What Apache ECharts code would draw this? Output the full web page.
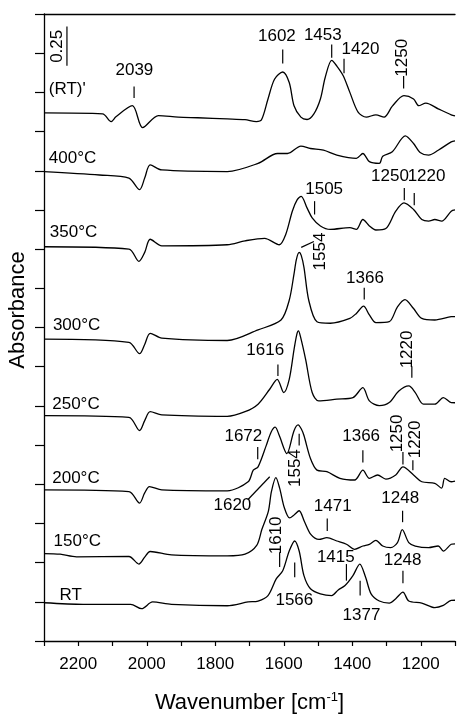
<!DOCTYPE html>
<html>
<head>
<meta charset="utf-8">
<script src="https://cdn.jsdelivr.net/npm/echarts@6/dist/echarts.min.js"></script>
<style>
html,body{margin:0;padding:0;background:#fff;}
#chart{width:458px;height:719px;}
</style>
</head>
<body>
<div id="chart"></div>
<script>
// ---- data (wavenumber [cm-1], absorbance incl. stacking offset) ----
const xTickLabels = [2200, 2000, 1800, 1600, 1400, 1200];

const specRTprime = [[2300,3.369],[2129,3.363],[2104,3.314],[2090,3.344],[2042,3.415],[2012,3.275],[1966,3.352],[1908,3.342],[1851,3.338],[1765,3.331],[1713,3.326],[1680,3.314],[1665,3.325],[1646,3.458],[1627,3.584],[1603,3.630],[1584,3.563],[1570,3.415],[1550,3.342],[1532,3.327],[1512,3.363],[1493,3.458],[1479,3.595],[1460,3.704],[1445,3.668],[1426,3.605],[1407,3.500],[1383,3.374],[1359,3.342],[1331,3.357],[1307,3.342],[1283,3.412],[1249,3.479],[1221,3.458],[1206,3.415],[1185,3.432],[1149,3.395],[1111,3.357],[1100,3.350]];

const spec400 = [[2300,2.995],[2138,2.973],[2052,2.953],[2021,2.879],[2006,2.953],[1990,3.037],[1956,3.005],[1765,2.995],[1675,3.047],[1618,3.110],[1589,3.110],[1550,3.157],[1522,3.142],[1484,3.131],[1445,3.100],[1388,3.079],[1369,3.110],[1350,3.058],[1321,3.047],[1311,3.092],[1283,3.121],[1245,3.222],[1221,3.174],[1202,3.117],[1177,3.100],[1149,3.131],[1111,3.184],[1100,3.190]];

const spec350 = [[2300,2.515],[2052,2.500],[2023,2.422],[2006,2.479],[1990,2.563],[1956,2.521],[1765,2.528],[1713,2.553],[1656,2.569],[1613,2.528],[1594,2.595],[1575,2.742],[1561,2.814],[1549,2.837],[1532,2.763],[1517,2.700],[1493,2.648],[1464,2.626],[1407,2.637],[1388,2.626],[1369,2.689],[1350,2.648],[1331,2.622],[1302,2.631],[1273,2.742],[1249,2.795],[1221,2.753],[1197,2.689],[1177,2.679],[1159,2.689],[1139,2.679],[1111,2.742],[1100,2.750]];

const spec300 = [[2300,1.926],[2052,1.905],[2021,1.833],[2006,1.892],[1990,1.963],[1956,1.932],[1765,1.917],[1675,1.985],[1608,2.048],[1584,2.174],[1570,2.342],[1563,2.435],[1555,2.479],[1549,2.460],[1541,2.384],[1527,2.174],[1503,2.037],[1464,2.027],[1407,2.058],[1388,2.090],[1367,2.136],[1350,2.080],[1331,2.031],[1292,2.037],[1268,2.132],[1246,2.178],[1221,2.121],[1197,2.058],[1159,2.048],[1111,2.069],[1100,2.070]];

const spec250 = [[2300,1.438],[2052,1.427],[2021,1.343],[2006,1.406],[1990,1.463],[1956,1.442],[1765,1.433],[1713,1.463],[1675,1.511],[1641,1.606],[1619,1.669],[1600,1.585],[1584,1.669],[1570,1.859],[1562,1.955],[1557,1.978],[1551,1.940],[1536,1.795],[1517,1.585],[1498,1.532],[1445,1.543],[1398,1.553],[1369,1.616],[1350,1.532],[1321,1.501],[1292,1.521],[1264,1.595],[1235,1.627],[1216,1.585],[1192,1.511],[1159,1.511],[1134,1.553],[1111,1.521],[1100,1.520]];

const spec200 = [[2300,0.964],[2052,0.953],[2021,0.880],[2006,0.945],[1992,0.985],[1956,0.964],[1765,0.958],[1704,1.016],[1689,1.090],[1675,1.111],[1651,1.248],[1637,1.332],[1625,1.364],[1613,1.311],[1591,1.196],[1570,1.342],[1558,1.379],[1549,1.354],[1541,1.311],[1522,1.164],[1503,1.090],[1474,1.080],[1436,1.038],[1393,1.027],[1369,1.090],[1350,1.038],[1326,1.059],[1302,1.033],[1273,1.059],[1252,1.111],[1221,1.059],[1197,1.016],[1159,1.006],[1139,0.975],[1130,1.038],[1111,1.016],[1100,1.020]];

const spec150 = [[2300,0.558],[2253,0.554],[2205,0.537],[2052,0.539],[2023,0.491],[2006,0.535],[1990,0.571],[1928,0.549],[1765,0.543],[1713,0.554],[1679,0.610],[1664,0.711],[1645,0.827],[1636,0.953],[1623,1.042],[1612,0.975],[1598,0.848],[1583,0.785],[1569,0.806],[1555,0.831],[1540,0.764],[1521,0.680],[1497,0.648],[1474,0.659],[1445,0.638],[1417,0.617],[1393,0.585],[1369,0.606],[1350,0.617],[1331,0.642],[1311,0.606],[1288,0.596],[1268,0.628],[1254,0.711],[1235,0.628],[1216,0.606],[1177,0.596],[1149,0.606],[1134,0.574],[1111,0.617],[1100,0.620]];

const specRT = [[2300,0.244],[2186,0.234],[2047,0.234],[2015,0.206],[1983,0.249],[1928,0.234],[1765,0.225],[1704,0.249],[1675,0.255],[1646,0.290],[1622,0.396],[1603,0.448],[1584,0.574],[1568,0.638],[1555,0.574],[1541,0.417],[1522,0.333],[1493,0.301],[1460,0.290],[1441,0.326],[1421,0.354],[1398,0.417],[1378,0.491],[1361,0.407],[1345,0.301],[1321,0.255],[1292,0.242],[1273,0.270],[1252,0.312],[1235,0.255],[1197,0.242],[1159,0.213],[1134,0.227],[1111,0.259],[1100,0.260]];

const spectra = [specRTprime, spec400, spec350, spec300, spec250, spec200, spec150, specRT];
const specNames = ["(RT)'", '400°C', '350°C', '300°C', '250°C', '200°C', '150°C', 'RT'];
const specLabelPos = [[2286,3.521],[2286,3.079],[2283,2.605],[2274,2.016],[2276,1.511],[2276,1.039],[2272,0.638],[2255,0.294]];

// peak annotations: text, text centre, rotated?, marker line (x1,y1,x2,y2)
const annText = ['2039','1602','1453','1420','1250','1250','1220','1505','1554','1366','1616','1220','1672','1554','1366','1250','1220','1620','1471','1248','1610','1566','1415','1248','1377'];
const annPos = [[2036,3.640],[1620,3.855],[1486,3.862],[1376,3.773],[1254,3.721],[1290,2.962],[1183,2.962],[1482,2.879],[1493,2.485],[1363,2.316],[1654,1.853],[1240,1.860],[1718,1.306],[1565,1.103],[1374,1.306],[1268,1.324],[1216,1.286],[1750,0.863],[1457,0.859],[1260,0.912],[1622,0.674],[1569,0.259],[1448,0.535],[1253,0.516],[1373,0.164]];
const annRot = [0,0,0,0,1,0,0,0,1,0,0,1,0,1,0,1,1,0,0,0,1,0,0,0,0];
const annLine = [[2037,3.538,2037,3.464],[1603,3.773,1603,3.685],[1460,3.805,1460,3.721],[1424,3.715,1424,3.622],[1250,3.605,1250,3.525],[1248,2.890,1248,2.812],[1219,2.858,1219,2.780],[1510,2.806,1510,2.721],[1549,2.511,1512,2.549],[1365,2.254,1365,2.178],[1617,1.764,1617,1.690],[1226,1.753,1226,1.679],[1676,1.237,1676,1.160],[1555,1.322,1555,1.248],[1369,1.217,1369,1.139],[1252,1.206,1252,1.126],[1223,1.153,1223,1.090],[1705,0.901,1641,1.048],[1473,0.781,1473,0.701],[1253,0.831,1253,0.758],[1612,0.566,1612,0.472],[1568,0.501,1568,0.407],[1417,0.491,1417,0.385],[1252,0.448,1252,0.369],[1377,0.385,1377,0.290]];

// scale bar: 0.25 absorbance units
const scaleBarValue = 0.25;
const scaleBarPos = [2233, 3.67];
const scaleTextPos = [2262, 3.794];

// ---- chart ----
const FONT = '"Liberation Sans", Arial, Helvetica, sans-serif';
const chart = echarts.init(document.getElementById('chart'), null, {renderer: 'canvas'});

const series = spectra.map((d, i) => ({
  type: 'line', name: specNames[i], data: d, showSymbol: false, smooth: 0.3,
  lineStyle: {color: '#000', width: 1.3}, silent: true, animation: false
}));

series.push({
  type: 'custom', name: 'labels', animation: false, silent: true,
  data: specLabelPos,
  encode: {x: 0, y: 1},
  renderItem: (params, api) => {
    const p = api.coord([api.value(0), api.value(1)]);
    return {type: 'text', x: p[0], y: p[1],
      style: {text: specNames[params.dataIndex], fill: '#000', font: '17px ' + FONT, align: 'left', verticalAlign: 'middle'}};
  }
});

series.push({
  type: 'custom', name: 'peaks', animation: false, silent: true,
  data: annPos.map((p, i) => [p[0], p[1]].concat(annLine[i])),
  encode: {x: [0, 2, 4], y: [1, 3, 5]},
  renderItem: (params, api) => {
    const i = params.dataIndex;
    const p = api.coord([api.value(0), api.value(1)]);
    const a = api.coord([api.value(2), api.value(3)]);
    const b = api.coord([api.value(4), api.value(5)]);
    return {type: 'group', children: [
      {type: 'text', x: p[0], y: p[1], rotation: annRot[i] ? Math.PI / 2 : 0,
        style: {text: annText[i], fill: '#000', font: '17px ' + FONT, align: 'center', verticalAlign: 'middle'}},
      {type: 'line', shape: {x1: a[0], y1: a[1], x2: b[0], y2: b[1]}, style: {stroke: '#000', lineWidth: 1.2}}
    ]};
  }
});

series.push({
  type: 'custom', name: 'scale', animation: false, silent: true,
  data: [[scaleBarPos[0], scaleBarPos[1], scaleBarPos[1] + scaleBarValue, scaleTextPos[0], scaleTextPos[1]]],
  encode: {x: [0, 3], y: [1, 2, 4]},
  renderItem: (params, api) => {
    const a = api.coord([api.value(0), api.value(1)]);
    const b = api.coord([api.value(0), api.value(2)]);
    const t = api.coord([api.value(3), api.value(4)]);
    return {type: 'group', children: [
      {type: 'line', shape: {x1: a[0], y1: a[1], x2: b[0], y2: b[1]}, style: {stroke: '#000', lineWidth: 1.2}},
      {type: 'text', x: t[0], y: t[1], rotation: Math.PI / 2,
        style: {text: String(scaleBarValue), fill: '#000', font: '17px ' + FONT, align: 'center', verticalAlign: 'middle'}}
    ]};
  }
});

chart.setOption({
  animation: false,
  backgroundColor: '#fff',
  grid: {left: 44, top: 14, width: 418, height: 634, containLabel: false},
  xAxis: [{
    type: 'value', min: 1100, max: 2300, interval: 100, inverse: true,
    axisLine: {show: true, lineStyle: {color: '#000', width: 1.3}},
    axisTick: {show: true, inside: false, length: 5, lineStyle: {color: '#000', width: 1.2}},
    axisLabel: {show: true, margin: 15, color: '#000', fontSize: 17, fontFamily: FONT,
      formatter: v => xTickLabels.includes(v) ? String(v) : ''},
    splitLine: {show: false},
    name: 'Wavenumber [cm{sup|-1}]', nameLocation: 'middle', nameGap: 50,
    nameTextStyle: {color: '#000', fontSize: 22, fontFamily: FONT,
      rich: {sup: {fontSize: 13, fontFamily: FONT, color: '#000', padding: [0, 0, 11, 0]}}}
  }, {
    type: 'value', position: 'top', min: 1100, max: 2300, inverse: true,
    axisLine: {show: true, lineStyle: {color: '#000', width: 1.3}},
    axisTick: {show: false}, axisLabel: {show: false}, splitLine: {show: false}
  }],
  yAxis: {
    type: 'value', min: 0, max: 4, interval: 0.25,
    axisLine: {show: true, lineStyle: {color: '#000', width: 1.3}},
    axisTick: {show: true, inside: false, length: 9, lineStyle: {color: '#000', width: 1.2}},
    axisLabel: {show: false},
    splitLine: {show: false}
  },
  graphic: [{
    type: 'text', x: 18, y: 310, rotation: Math.PI / 2,
    style: {text: 'Absorbance', fill: '#000', font: '22px ' + FONT, align: 'center', verticalAlign: 'middle'}
  }],
  series: series
});
</script>
</body>
</html>
